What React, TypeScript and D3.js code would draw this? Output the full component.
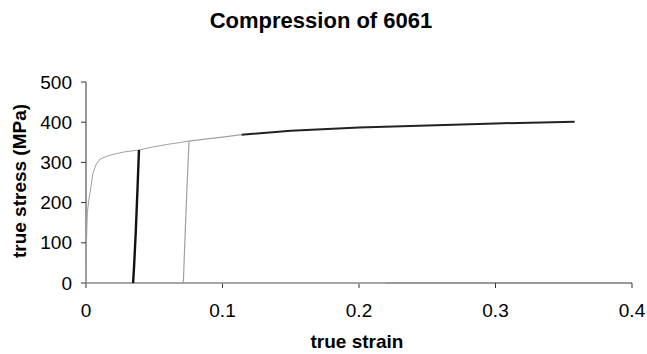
import React from "react";
import * as d3 from "d3";

const W = 647;
const H = 354;

const xTicks = [0, 0.1, 0.2, 0.3, 0.4];
const xTickLabels = ["0", "0.1", "0.2", "0.3", "0.4"];
const yTicks = [0, 100, 200, 300, 400, 500];

// first loading (gray)
const load1Strain = [0, 0, 0.0005, 0.001, 0.002, 0.003, 0.005, 0.0075, 0.0103, 0.015, 0.02, 0.028, 0.037, 0.0388];
const load1Stress = [0, 40, 120, 175, 205, 225, 272, 296, 308, 315, 320, 326, 330, 331];
// first unloading (black)
const unload1Strain = [0.0388, 0.0378, 0.0365, 0.0352, 0.0345];
const unload1Stress = [331, 240, 130, 40, 0];
// second loading (gray)
const load2Strain = [0.0388, 0.05, 0.06, 0.07, 0.0755];
const load2Stress = [331, 339, 345, 350, 353];
// second unloading (gray)
const unload2Strain = [0.0755, 0.074, 0.0725, 0.0713];
const unload2Stress = [353, 240, 110, 0];
// third loading, gray part
const load3Strain = [0.0755, 0.09, 0.1, 0.114];
const load3Stress = [353, 359, 363, 369];
// third loading, black part
const load4Strain = [0.114, 0.15, 0.2, 0.25, 0.3, 0.358];
const load4Stress = [369, 379, 387, 392, 397, 401];
// zero-stress trace along axis (gray)
const zeroStrain = [0, 0.22];
const zeroStress = [0, 0];

const FONT = "'Liberation Sans', Arial, Helvetica, sans-serif";

export default function App() {
  const left = 86, right = 632, top = 82, bottom = 283;
  const x = d3.scaleLinear().domain([0, 0.4]).range([left, right]);
  const y = d3.scaleLinear().domain([0, 500]).range([bottom, top]);
  const line = d3.line<[number, number]>().x((d) => x(d[0])).y((d) => y(d[1]));
  const pts = (a: number[], b: number[]) => a.map((v, i) => [v, b[i]] as [number, number]);

  const series = [
    { s: zeroStrain, t: zeroStress, color: "#aaa", w: 1.5 },
    { s: load1Strain, t: load1Stress, color: "#a0a0a0", w: 1 },
    { s: load2Strain, t: load2Stress, color: "#a0a0a0", w: 1 },
    { s: unload2Strain, t: unload2Stress, color: "#a0a0a0", w: 1.2 },
    { s: load3Strain, t: load3Stress, color: "#a0a0a0", w: 1.2 },
    { s: unload1Strain, t: unload1Stress, color: "#111", w: 2.4 },
    { s: load4Strain, t: load4Stress, color: "#222", w: 2 },
  ];

  return (
    <svg width={W} height={H} style={{ position: "absolute", left: 0, top: 0, background: "#fff" }} fontFamily={FONT}>
      <text x={321} y={28} textAnchor="middle" fontSize={22} fontWeight="bold" fill="#000">
        Compression of 6061
      </text>
      {/* y axis */}
      <line x1={left} x2={left} y1={top} y2={bottom} stroke="#333" strokeWidth={1} />
      {yTicks.map((t) => (
        <g key={t}>
          <line x1={left - 5} x2={left} y1={y(t)} y2={y(t)} stroke="#333" />
          <text x={left - 14} y={y(t)} dy="0.35em" textAnchor="end" fontSize={19} fill="#000">
            {t}
          </text>
        </g>
      ))}
      {/* x axis */}
      <line x1={left} x2={right} y1={bottom} y2={bottom} stroke="#333" strokeWidth={1} />
      {xTicks.map((t, i) => (
        <g key={t}>
          <line x1={x(t)} x2={x(t)} y1={bottom} y2={bottom + 5} stroke="#333" />
          <text x={x(t)} y={317} textAnchor="middle" fontSize={19} fill="#000">
            {xTickLabels[i]}
          </text>
        </g>
      ))}
      {series.map((sr, i) => (
        <path key={i} d={line(pts(sr.s, sr.t)) || ""} fill="none" stroke={sr.color} strokeWidth={sr.w} />
      ))}
      <text x={357} y={348} textAnchor="middle" fontSize={19} fontWeight="bold" fill="#000">
        true strain
      </text>
      <text
        transform={`translate(26,181) rotate(-90)`}
        textAnchor="middle"
        fontSize={19}
        fontWeight="bold"
        fill="#000"
      >
        true stress (MPa)
      </text>
    </svg>
  );
}
